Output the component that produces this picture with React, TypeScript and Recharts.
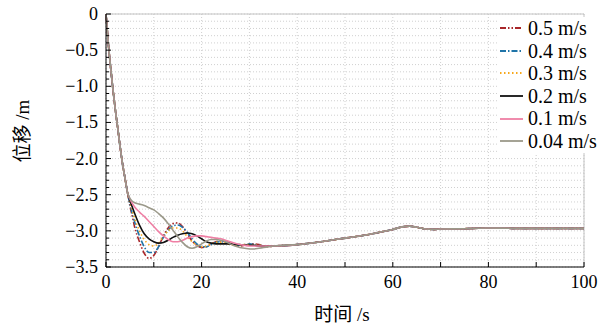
import React from 'react';
import { LineChart, Line, XAxis, YAxis, CartesianGrid, ReferenceLine } from 'recharts';

// time (s)
const startTimes = [0, 0.5, 1, 1.5, 2, 2.5, 3, 3.5, 4, 4.5];
const startValues = [0, -0.42, -0.76, -1.07, -1.35, -1.6, -1.86, -2.09, -2.28, -2.47];

const midTimes = [5, 5.5, 6, 7, 8, 9, 10, 11, 12, 13, 14, 15, 16, 17, 18, 19, 20, 21, 22, 23, 24, 25, 26, 27, 28, 29, 30, 31, 32, 33, 34, 35];
const mid05 = [-2.65, -2.8, -2.95, -3.15, -3.31, -3.38, -3.34, -3.22, -3.07, -2.96, -2.9, -2.89, -2.94, -3.04, -3.14, -3.2, -3.23, -3.22, -3.18, -3.15, -3.14, -3.15, -3.17, -3.2, -3.21, -3.2, -3.18, -3.18, -3.19, -3.21, -3.22, -3.21];
const mid04 = [-2.63, -2.76, -2.88, -3.07, -3.22, -3.3, -3.3, -3.22, -3.09, -2.99, -2.93, -2.92, -2.95, -3.02, -3.11, -3.18, -3.22, -3.22, -3.19, -3.16, -3.15, -3.16, -3.18, -3.2, -3.2, -3.19, -3.18, -3.19, -3.2, -3.21, -3.21, -3.21];
const mid03 = [-2.61, -2.72, -2.83, -3.0, -3.12, -3.19, -3.21, -3.17, -3.08, -3.0, -2.96, -2.96, -3.0, -3.08, -3.15, -3.2, -3.22, -3.21, -3.18, -3.16, -3.16, -3.17, -3.19, -3.2, -3.2, -3.19, -3.19, -3.2, -3.2, -3.21, -3.21, -3.21];
const mid02 = [-2.58, -2.67, -2.76, -2.92, -3.04, -3.11, -3.15, -3.17, -3.16, -3.13, -3.09, -3.06, -3.04, -3.03, -3.04, -3.07, -3.11, -3.15, -3.17, -3.18, -3.18, -3.18, -3.18, -3.19, -3.19, -3.2, -3.2, -3.2, -3.21, -3.21, -3.21, -3.21];
const mid01 = [-2.56, -2.62, -2.67, -2.74, -2.8, -2.87, -2.94, -3.01, -3.07, -3.12, -3.15, -3.15, -3.13, -3.1, -3.08, -3.07, -3.07, -3.08, -3.09, -3.1, -3.11, -3.13, -3.15, -3.17, -3.19, -3.2, -3.21, -3.21, -3.21, -3.21, -3.21, -3.21];
const mid004 = [-2.55, -2.59, -2.61, -2.63, -2.65, -2.68, -2.71, -2.76, -2.82, -2.9, -2.99, -3.08, -3.16, -3.22, -3.24, -3.22, -3.18, -3.14, -3.12, -3.12, -3.13, -3.15, -3.18, -3.21, -3.23, -3.24, -3.25, -3.25, -3.24, -3.23, -3.22, -3.21];

const tailTimes = [40, 45, 50, 55, 58, 60, 62, 63.5, 65, 67, 68.5, 70, 75, 80, 85, 90, 95, 100];
const tailValues = [-3.19, -3.15, -3.1, -3.05, -3.01, -2.98, -2.945, -2.935, -2.95, -2.975, -2.98, -2.975, -2.97, -2.96, -2.965, -2.965, -2.965, -2.965];

const seriesNames = ['0.5 m/s', '0.4 m/s', '0.3 m/s', '0.2 m/s', '0.1 m/s', '0.04 m/s'];
const seriesKeys = ['s05', 's04', 's03', 's02', 's01', 's004'];
const seriesMids = [mid05, mid04, mid03, mid02, mid01, mid004];
const colors = ['#a8262a', '#1f74a8', '#f7a81b', '#111111', '#ef7fa4', '#9b998a'];
const dashes = ['6 2 1.5 2 1.5 2', '6 2 1.5 2', '1.5 2.5', undefined, undefined, undefined];

const xTicks = [0, 10, 20, 30, 40, 50, 60, 70, 80, 90, 100];
const xLabels = [0, 20, 40, 60, 80, 100];
const yTicks = [-3.5, -3.4, -3.3, -3.2, -3.1, -3.0, -2.9, -2.8, -2.7, -2.6, -2.5, -2.4, -2.3, -2.2, -2.1, -2.0, -1.9, -1.8, -1.7, -1.6, -1.5, -1.4, -1.3, -1.2, -1.1, -1.0, -0.9, -0.8, -0.7, -0.6, -0.5, -0.4, -0.3, -0.2, -0.1, 0];
const yLabels = [0, -0.5, -1.0, -1.5, -2.0, -2.5, -3.0, -3.5];

const allTimes = [...startTimes, ...midTimes, ...tailTimes];
const data = allTimes.map((t, i) => {
  const row: any = { t };
  seriesKeys.forEach((k, si) => {
    if (i < startTimes.length) row[k] = startValues[i];
    else if (i < startTimes.length + midTimes.length) row[k] = seriesMids[si][i - startTimes.length];
    else row[k] = tailValues[i - startTimes.length - midTimes.length];
  });
  return row;
});

const FONT = "'Liberation Serif', 'Times New Roman', Times, serif";
const CJK = "'Liberation Serif', 'Noto Sans CJK SC', serif";

const isYLabel = (v: number) => yLabels.some((l) => Math.abs(l - v) < 1e-6);
const fmtY = (v: number) => (Math.abs(v) < 1e-9 ? '0' : '\u2212' + Math.abs(v).toFixed(1));

const XTick = (props: any) => {
  const { x, y, payload } = props;
  const v = payload.value;
  const major = xLabels.includes(v);
  return (
    <g>
      <line x1={x} x2={x} y1={y} y2={y - 5} stroke="#000" strokeWidth={1} />
      {major && (
        <text x={x} y={y + 21} textAnchor="middle" style={{ fontFamily: FONT }} fontSize={18} fill="#000">
          {v}
        </text>
      )}
    </g>
  );
};

const YTick = (props: any) => {
  const { x, y, payload } = props;
  const v = payload.value;
  const major = isYLabel(v);
  return (
    <g>
      <line x1={x} x2={x + (major ? 5 : 3)} y1={y} y2={y} stroke="#000" strokeWidth={1} />
      {major && (
        <text x={x - 8} y={y + 6} textAnchor="end" style={{ fontFamily: FONT }} fontSize={18} fill="#000">
          {fmtY(v)}
        </text>
      )}
    </g>
  );
};

export default function App() {
  return (
    <div style={{ position: 'absolute', left: 0, top: 0, width: 610, height: 326, background: '#fff' }}>
      <LineChart width={610} height={326} data={data} margin={{ top: 14, right: 26, bottom: 0, left: 0 }}>
        <CartesianGrid stroke="#d0d0d0" strokeDasharray="1 2" />
        <XAxis
          dataKey="t"
          type="number"
          domain={[0, 100]}
          ticks={xTicks}
          interval={0}
          height={59}
          tickSize={0}
          tickMargin={0}
          tickLine={false}
          axisLine={{ stroke: '#000', strokeWidth: 1 }}
          tick={<XTick />}
          label={{
            content: () => (
              <text x={342} y={321} textAnchor="middle" style={{ fontFamily: CJK }} fontSize={19} fill="#000">
                时间 /s
              </text>
            ),
          }}
        />
        <YAxis
          type="number"
          domain={[-3.5, 0]}
          ticks={yTicks}
          interval={0}
          width={106}
          tickSize={0}
          tickMargin={0}
          tickLine={false}
          axisLine={{ stroke: '#000', strokeWidth: 1 }}
          tick={<YTick />}
          label={{
            content: () => (
              <text
                x={22}
                y={131}
                textAnchor="middle"
                style={{ fontFamily: CJK }}
                fontSize={19}
                fill="#000"
                dominantBaseline="central"
                transform="rotate(-90 22 131)"
              >
                位移 /m
              </text>
            ),
          }}
        />
        <ReferenceLine y={0} stroke="#c4c4c4" strokeWidth={1} />
        <ReferenceLine x={100} stroke="#c4c4c4" strokeWidth={1} />
        {seriesKeys.map((k, i) => (
          <Line
            key={k}
            dataKey={k}
            name={seriesNames[i]}
            type="monotone"
            stroke={colors[i]}
            strokeWidth={1.6}
            strokeDasharray={dashes[i]}
            dot={false}
            activeDot={false}
            isAnimationActive={false}
          />
        ))}
      </LineChart>
      <div
        style={{
          position: 'absolute',
          left: 497,
          top: 17,
          width: 106,
          height: 136,
          background: '#fff',
          fontFamily: FONT,
          fontSize: 20,
          color: '#000',
        }}
      >
        {seriesNames.map((n, i) => (
          <div key={n} style={{ display: 'flex', alignItems: 'center', height: 22.6, whiteSpace: 'nowrap' }}>
            <svg width={31} height={10} style={{ flex: 'none' }}>
              <line x1={3} x2={26} y1={5} y2={5} stroke={colors[i]} strokeWidth={1.8} strokeDasharray={dashes[i]} />
            </svg>
            <span style={{ lineHeight: '22.6px' }}>{n}</span>
          </div>
        ))}
      </div>
    </div>
  );
}
